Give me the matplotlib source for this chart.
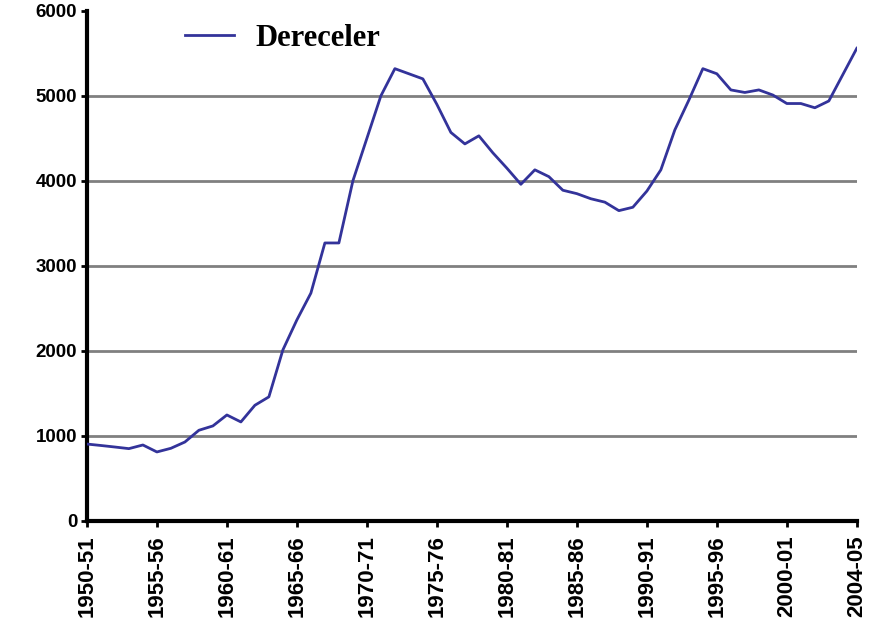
import matplotlib
matplotlib.use('Agg')
import matplotlib.pyplot as plt

# values, one per season (index 0 = 1950-51 ... 55 = 2004-05)
values = [905, 888, 870, 851, 894, 812, 855, 929, 1067, 1118,
          1247, 1165, 1361, 1460, 2012, 2365, 2680, 3270, 3270, 4000,
          4500, 5000, 5320, 5260, 5200, 4900, 4570, 4435, 4530, 4330,
          4150, 3960, 4130, 4050, 3890, 3850, 3790, 3750, 3650, 3690,
          3880, 4130, 4600, 4950, 5320, 5260, 5070, 5040, 5070, 5010,
          4910, 4910, 4860, 4940, 5250, 5560]
tick_pos = [0, 5, 10, 15, 20, 25, 30, 35, 40, 45, 50, 55]
tick_labels = ['1950-51', '1955-56', '1960-61', '1965-66', '1970-71', '1975-76',
               '1980-81', '1985-86', '1990-91', '1995-96', '2000-01', '2004-05']
y_ticks = [0, 1000, 2000, 3000, 4000, 5000, 6000]
series_name = 'Dereceler'

fig = plt.figure(figsize=(8.69, 6.38), dpi=100)
ax = fig.add_axes([0.100, 0.1834, 0.886, 0.7996])

# gri yatay kılavuz çizgileri (0 ve 6000 hariç)
for y in y_ticks[1:-1]:
    ax.axhline(y, color='#808080', lw=2.0, zorder=1)

ax.plot(range(len(values)), values, color='#33339a', lw=2.0, label=series_name, zorder=3)

ax.set_xlim(0, 55)
ax.set_ylim(0, 6000)
ax.set_xticks(tick_pos)
ax.set_xticklabels(tick_labels, rotation=90, fontsize=16, fontweight='bold',
                   family='Liberation Sans')
ax.set_yticks(y_ticks)
ax.set_yticklabels([str(v) for v in y_ticks], fontsize=13.5, fontweight='bold',
                   family='Liberation Sans')
ax.tick_params(axis='both', length=4, width=2, direction='out')
ax.tick_params(axis='x', pad=6)
ax.tick_params(axis='y', pad=3)

for s in ['top', 'right']:
    ax.spines[s].set_visible(False)
for s in ['left', 'bottom']:
    ax.spines[s].set_linewidth(3)
    ax.spines[s].set_color('black')

ax.legend(loc='center left', bbox_to_anchor=(185 / 869, 1 - 38 / 638),
          bbox_transform=fig.transFigure, frameon=False, borderpad=0, borderaxespad=0,
          handlelength=1.6, handletextpad=0.72,
          prop={'family': 'Liberation Serif', 'weight': 'bold', 'size': 22})

fig.savefig('out.png', dpi=100)
